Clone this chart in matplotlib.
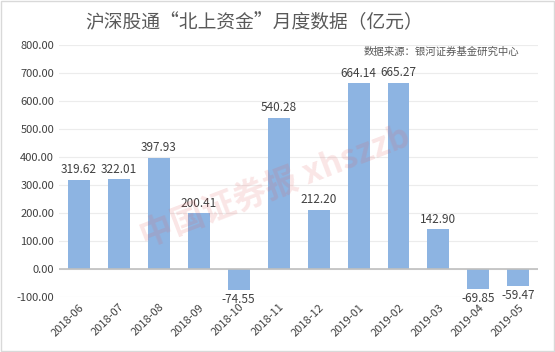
import matplotlib.pyplot as plt

plt.rcParams['font.family'] = ['Noto Sans CJK SC', 'DejaVu Sans']

months = ['2018-06', '2018-07', '2018-08', '2018-09', '2018-10', '2018-11',
          '2018-12', '2019-01', '2019-02', '2019-03', '2019-04', '2019-05']
values = [319.62, 322.01, 397.93, 200.41, -74.55, 540.28,
          212.20, 664.14, 665.27, 142.90, -69.85, -59.47]
yticks = list(range(-100, 801, 100))

fig = plt.figure(figsize=(5.55, 3.52), dpi=100)
ax = fig.add_axes([0.106, 0.156, 0.864, 0.716])

x = range(len(months))
ax.bar(x, values, width=0.55, color='#8db4e2', zorder=2)

for i, v in zip(x, values):
    if v >= 0:
        ax.text(i, v + 12, f'{v:.2f}', ha='center', va='bottom', fontsize=8.5, color='#404040')
    else:
        ax.text(i, v - 12, f'{v:.2f}', ha='center', va='top', fontsize=8.5, color='#404040')

ax.set_xlim(-0.5, len(months) - 0.5)
ax.set_ylim(-100, 800)
ax.set_yticks(yticks)
ax.set_yticklabels([f'{t:.2f}' for t in yticks], fontsize=8, color='#404040')
ax.set_xticks(list(x))
ax.set_xticklabels(months, rotation=45, ha='right', rotation_mode='anchor',
                   fontsize=8, color='#404040')
ax.tick_params(length=0)
ax.grid(axis='y', color='#ececec', linewidth=0.8, zorder=0)
ax.axhline(0, color='#bfbfbf', linewidth=1.2, zorder=3)
for s in ax.spines.values():
    s.set_visible(False)

fig.text(0.458, 0.935, '沪深股通“北上资金”月度数据（亿元）', ha='center', va='center',
         fontsize=13.5, fontweight='light', color='#595959')
fig.text(0.935, 0.852, '数据来源：银河证券基金研究中心', ha='right', va='center',
         fontsize=7.5, color='#595959')

# watermark
fig.text(0.495, 0.47, '中国证券报 xhszzb', ha='center', va='center', rotation=21,
         fontsize=24, fontweight='bold', color='#e06060', alpha=0.16)

# frame around image
fig.patches.append(plt.Rectangle((0.002, 0.003), 0.996, 0.994, transform=fig.transFigure,
                                 fill=False, edgecolor='#d9d9d9', linewidth=1))

fig.savefig('out.png', dpi=100)
